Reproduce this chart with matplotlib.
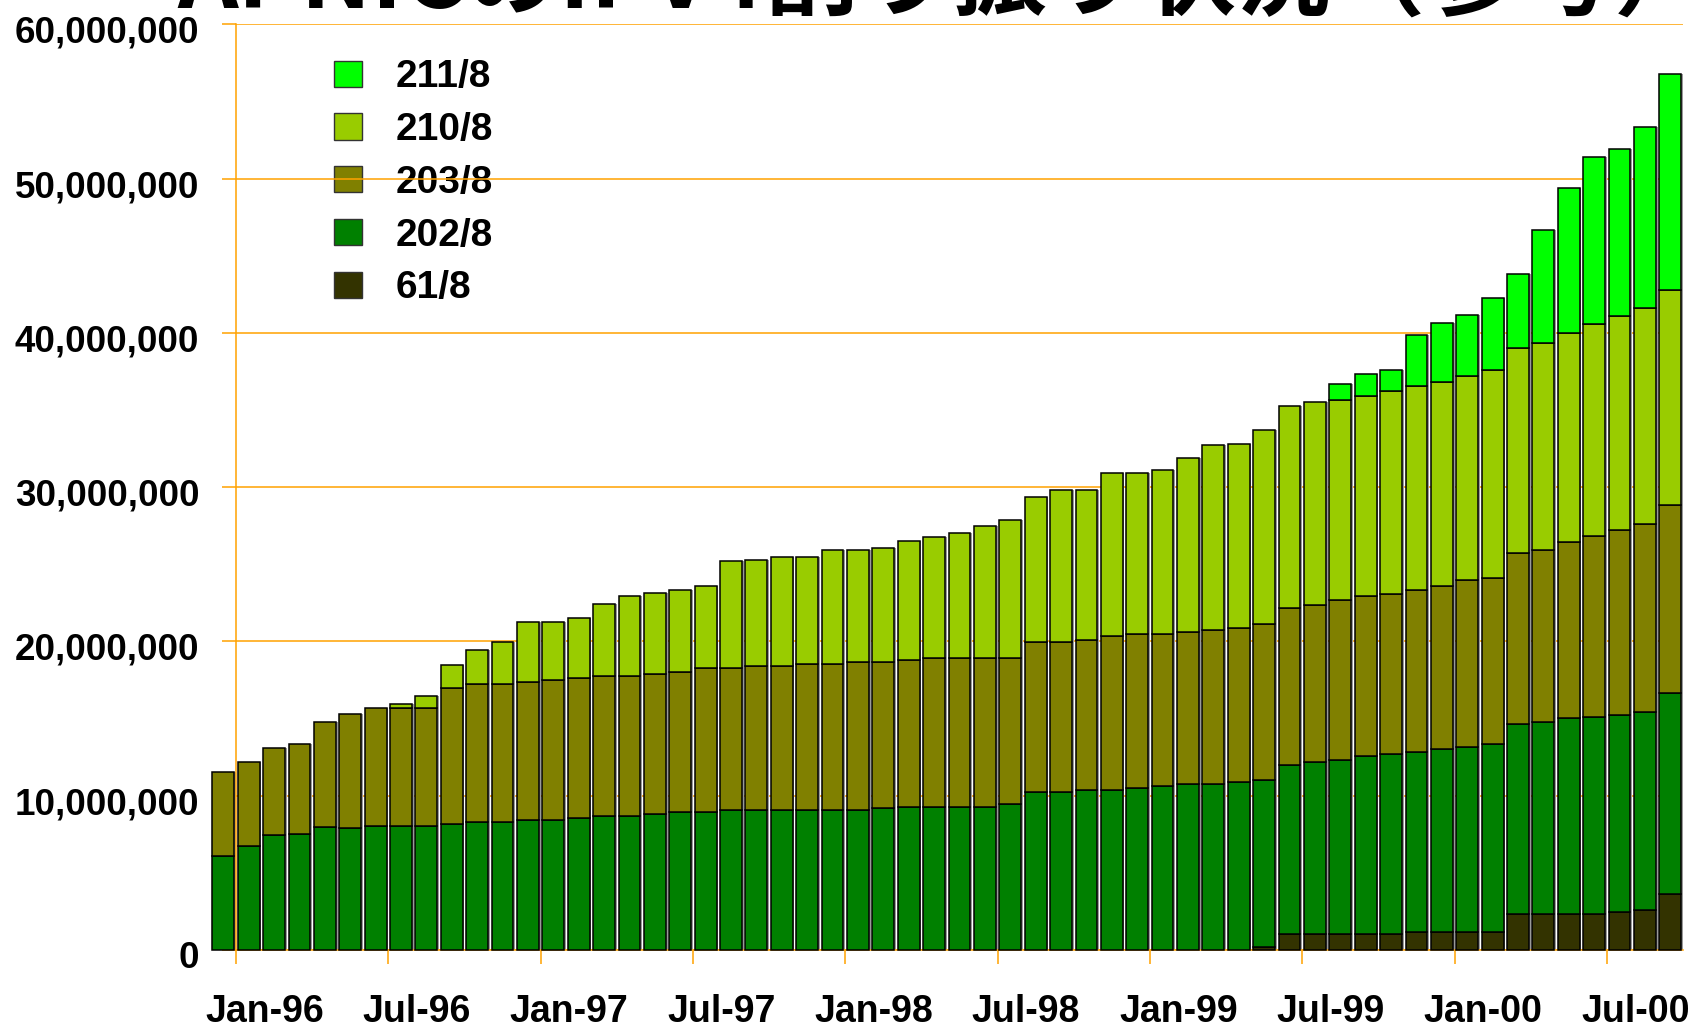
import numpy as np
import pandas as pd
import matplotlib
matplotlib.use('Agg')
import matplotlib.pyplot as plt
from matplotlib.patches import Patch
from matplotlib.ticker import FuncFormatter
from matplotlib.transforms import ScaledTranslation

plt.rcParams['font.family'] = ['Liberation Sans', 'DejaVu Sans']
plt.rcParams['font.weight'] = 'bold'

# monthly allocations, Dec-95 .. Sep-00 (values in millions of addresses)
months = pd.date_range('1995-12-01', periods=58, freq='MS')

blk_61 = [0] * 41 + [0.19, 1.04, 1.04, 1.04, 1.04, 1.04, 1.19, 1.19, 1.19, 1.19,
                     2.35, 2.35, 2.35, 2.35, 2.46, 2.59, 3.63]
blk_202 = [6.09, 6.74, 7.43, 7.54, 7.95, 7.93, 8.06, 8.06, 8.06, 8.17,
           8.27, 8.27, 8.43, 8.43, 8.58, 8.69, 8.69, 8.84, 8.97, 8.97,
           9.07, 9.07, 9.07, 9.07, 9.07, 9.07, 9.18, 9.29, 9.29, 9.29,
           9.29, 9.44, 10.22, 10.22, 10.35, 10.35, 10.48, 10.61, 10.76, 10.76,
           10.89, 10.81, 10.98, 11.12, 11.26, 11.54, 11.68, 11.67, 11.81, 11.95,
           12.16, 12.33, 12.46, 12.67, 12.74, 12.77, 12.85, 13.00]
blk_203 = [5.45, 5.43, 5.64, 5.83, 6.83, 7.37, 7.60, 7.60, 7.60, 8.81,
           8.99, 8.99, 8.97, 9.04, 9.02, 9.06, 9.06, 9.05, 9.05, 9.29,
           9.19, 9.34, 9.34, 9.47, 9.47, 9.60, 9.49, 9.51, 9.64, 9.64,
           9.64, 9.49, 9.74, 9.74, 9.74, 10.00, 10.00, 9.87, 9.85, 9.98,
           9.98, 10.13, 10.13, 10.20, 10.41, 10.34, 10.34, 10.48, 10.62, 10.83,
           10.76, 11.04, 11.12, 11.40, 11.74, 12.02, 12.16, 12.23]
blk_210 = [0, 0, 0, 0, 0, 0, 0, 0.26, 0.83, 1.47,
           2.17, 2.73, 3.84, 3.77, 3.92, 4.68, 5.17, 5.24, 5.32, 5.36,
           6.97, 6.89, 7.03, 6.90, 7.39, 7.26, 7.40, 7.68, 7.83, 8.11,
           8.53, 8.95, 9.39, 9.88, 9.75, 10.54, 10.41, 10.62, 11.26, 11.96,
           11.90, 12.55, 13.14, 13.14, 12.93, 13.00, 13.14, 13.21, 13.21, 13.21,
           13.49, 13.27, 13.41, 13.59, 13.72, 13.82, 13.99, 13.92]
blk_211 = [0] * 44 + [1.05, 1.40, 1.40, 3.28, 3.84, 3.98, 4.68, 4.83,
                      7.34, 9.36, 10.87, 10.87, 11.78, 13.98]

tick_labels = ['Jan-96', 'Jul-96', 'Jan-97', 'Jul-97', 'Jan-98',
               'Jul-98', 'Jan-99', 'Jul-99', 'Jan-00', 'Jul-00']

series = [('61/8', blk_61, '#333300'),
          ('202/8', blk_202, '#008000'),
          ('203/8', blk_203, '#808000'),
          ('210/8', blk_210, '#99CC00'),
          ('211/8', blk_211, '#00FF00')]

orange = '#FFA200'

fig = plt.figure(figsize=(16.91, 10.28), dpi=100)
ax = fig.add_axes([0.13956, 0.07588, 0.85570, 0.90049])

x = np.arange(len(months))
total = sum(np.array(v) for _, v, _ in series) * 1e6

# light drop shadow on the right of each column
ax.bar(x + 0.07, total, width=0.86, color='#9a9a9a', linewidth=0, zorder=2, clip_on=False)

bottom = np.zeros(len(months))
for name, vals, col in series:
    v = np.array(vals) * 1e6
    lw = np.where(v > 0, 1.1, 0.0)
    ax.bar(x, v, width=0.86, bottom=bottom, color=col, edgecolor='black',
           linewidth=lw, zorder=3, clip_on=False)
    bottom += v

ax.set_xlim(0.5, 57.5)
ax.set_ylim(0, 60e6)
ax.set_yticks(np.arange(0, 60e6 + 1, 10e6))
ax.yaxis.set_major_formatter(FuncFormatter(lambda v, p: f'{v:,.0f}'))
ax.yaxis.grid(True, color=orange, linewidth=1.1, zorder=1)
ax.set_axisbelow(True)

# tick marks sit between months, labels a little to the right
ax.set_xticks(np.arange(0.5, 55, 6))
ax.set_xticklabels([])
ax.set_xticks(np.arange(1.62, 56, 6), minor=True)
ax.set_xticklabels(tick_labels, minor=True)
ax.tick_params(axis='x', which='major', direction='out', length=10, width=1.1, color=orange)
ax.tick_params(axis='x', which='minor', length=0, pad=32, labelsize=27)
ax.tick_params(axis='y', direction='out', length=10, width=1.1, color=orange,
               pad=16.5, labelsize=26.5)

# y labels sit a touch below their grid lines
shift = ScaledTranslation(0, -0.05, fig.dpi_scale_trans)
for lab in ax.get_yticklabels():
    lab.set_transform(lab.get_transform() + shift)

for s in ['top', 'right']:
    ax.spines[s].set_visible(False)
for s in ['left', 'bottom']:
    ax.spines[s].set_color(orange)
    ax.spines[s].set_linewidth(1.1)

handles = [Patch(facecolor=col, edgecolor='#333333', linewidth=1.0, label=name)
           for name, vals, col in series[::-1]]
leg = ax.legend(handles=handles, loc='upper left', bbox_to_anchor=(0.068, 0.962),
                frameon=False, fontsize=28, handlelength=0.72, handleheight=0.66,
                handletextpad=0.85, labelspacing=0.43, borderpad=0, borderaxespad=0)
leg.set_zorder(0.2)

# slide title, cut off by the top edge of the picture
fig.text(0.5575, 0.993, 'APNICのIPv4割り振り状況（参考）', ha='center', va='baseline',
         fontsize=68, fontweight='bold',
         family=['Noto Sans CJK JP', 'DejaVu Sans'])

fig.savefig('out.png', dpi=100)
